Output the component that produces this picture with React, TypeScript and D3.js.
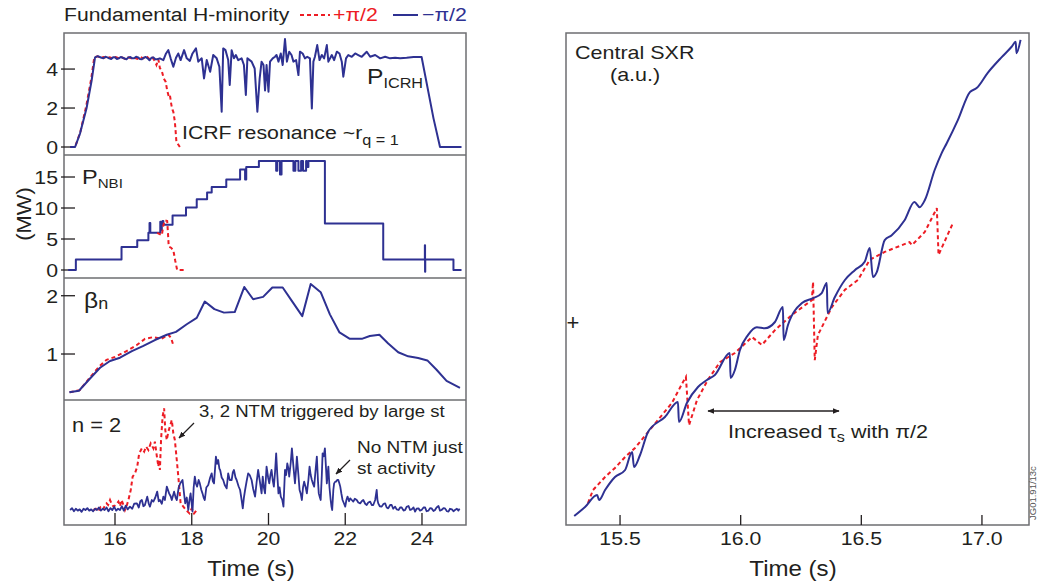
import React from 'react';
import * as d3 from 'd3';

type P = [number, number];

// ---------- data (time s, value) ----------
const ICRH_BLUE: P[] = [
[14.83,0],[14.96,0],[15.09,0.7],[15.26,2.0],[15.39,3.4],[15.48,4.6],
[15.55,4.66],[15.6,4.62],[15.65,4.58],[15.7,4.55],[15.75,4.63],[15.8,4.6],[15.85,4.55],[15.9,4.52],[15.95,4.6],[16.0,4.6],[16.05,4.52],[16.1,4.55],[16.15,4.62],[16.2,4.58],[16.25,4.54],[16.3,4.5],[16.35,4.6],[16.4,4.62],[16.45,4.55],[16.5,4.55],[16.55,4.63],[16.6,4.6],[16.65,4.52],[16.7,4.5],[16.75,4.58],[16.8,4.62],[16.85,4.55],[16.9,4.45],[16.95,4.58],[17.0,4.6],[17.05,4.5],[17.1,4.5],[17.17,4.55],
[17.26,4.46],[17.33,4.8],[17.39,4.97],[17.45,4.55],[17.52,4.12],[17.59,4.58],[17.65,4.8],[17.71,4.46],[17.8,4.97],[17.87,4.55],[17.95,4.42],[18.02,4.8],[18.11,5.06],[18.17,4.38],[18.26,4.55],[18.32,3.52],[18.39,4.46],[18.48,3.86],[18.56,4.72],[18.65,4.55],[18.72,4.12],[18.78,1.81],[18.82,5.06],[18.88,4.97],[18.95,4.46],[18.99,3.18],[19.04,4.97],[19.1,4.55],[19.15,4.72],[19.21,4.46],[19.3,4.55],[19.36,4.21],[19.41,2.67],[19.45,4.55],[19.56,4.38],[19.64,4.03],[19.71,1.81],[19.77,3.52],
[19.82,4.38],[19.87,4.21],[19.91,2.9],[19.95,4.21],[20.0,2.84],[20.04,4.38],[20.11,4.55],[20.17,4.63],[20.21,4.72],[20.26,4.38],[20.32,4.8],[20.37,4.21],[20.43,5.54],[20.48,4.38],[20.54,4.89],[20.6,4.72],[20.65,4.38],[20.72,4.46],[20.78,3.69],[20.82,4.89],[20.89,4.8],[20.95,4.55],[21.01,4.63],[21.08,4.55],[21.13,1.98],[21.17,4.38],[21.21,4.63],[21.27,5.23],[21.33,4.46],[21.39,4.72],[21.45,4.55],[21.52,5.23],[21.56,4.38],[21.65,4.72],[21.71,4.46],[21.78,4.89],[21.85,4.8],[21.91,4.38],[21.95,3.61],[22.02,4.55],[22.08,4.72],[22.17,4.63],[22.26,4.8],[22.34,4.72],[22.43,4.63],[22.56,4.89],[22.65,4.63],[22.78,4.72],[22.91,4.55],[23.04,4.63],[23.17,4.55],[23.3,4.58],[23.43,4.55],[23.6,4.58],[23.78,4.62],[23.99,4.62],[24.3,1.47],[24.47,0],[25.03,0]
];
const ICRH_RED: P[] = [
[14.83,0],[14.96,0],[15.1,0.8],[15.25,2.1],[15.38,3.5],[15.46,4.6],[15.55,4.65],[15.62,4.58],[15.7,4.62],[15.78,4.55],[15.86,4.6],[15.94,4.55],[16.02,4.62],[16.1,4.55],[16.18,4.6],[16.26,4.52],[16.34,4.6],[16.42,4.55],[16.5,4.58],[16.58,4.52],[16.66,4.62],[16.74,4.55],[16.82,4.66],[16.9,4.5],[16.98,4.58],[17.04,4.4],[17.08,4.21],[17.13,4.5],[17.17,4.05],[17.22,3.9],[17.27,3.52],[17.32,3.35],[17.36,2.9],[17.4,2.6],[17.43,2.67],[17.47,2.15],[17.5,1.9],[17.52,1.81],[17.56,1.3],[17.58,0.8],[17.6,0.27],[17.69,0]
];
const NBI_BLUE: P[] = [
[14.78,0],[14.98,1.7],[16.17,3.7],[16.58,4.8],[16.87,6.0],[16.9,7.6],[16.92,6.0],[17.17,6.0],[17.18,7.8],[17.2,6.4],[17.22,7.3],[17.24,7.9],[17.26,7.3],[17.5,8.8],[17.85,10.1],[18.13,11.4],[18.4,12.5],[18.52,13.4],[18.9,14.6],[19.26,16.2],[19.39,14.6],[19.42,16.6],[19.75,17.6],[20.2,16.0],[20.23,17.6],[20.3,15.4],[20.34,17.6],[20.65,16.0],[20.7,17.6],[20.78,16.0],[20.85,17.6],[20.9,16.0],[20.98,17.6],[21.0,16.6],[21.04,17.6],[21.47,7.5],[22.99,1.7],[24.075,4.0],[24.08,-0.3],[24.085,1.7],[24.82,0],[25.03,0]
];
const NBI_RED: P[] = [
[17.1,6.0],[17.22,5.6],[17.26,7.2],[17.3,8.0],[17.36,7.9],[17.38,6.0],[17.4,3.8],[17.46,3.6],[17.52,3.2],[17.57,1.5],[17.62,0],[17.8,0]
];
const BETA_BLUE: P[] = [
[14.81,0.343],[15.06,0.37],[15.35,0.58],[15.61,0.765],[15.87,0.88],[16.13,0.937],[16.44,1.05],[16.74,1.14],[17.04,1.24],[17.35,1.33],[17.59,1.38],[17.87,1.51],[18.13,1.62],[18.34,1.9],[18.59,1.77],[18.84,1.71],[19.12,1.72],[19.37,2.15],[19.6,1.94],[19.86,1.98],[20.1,2.14],[20.37,2.14],[20.63,1.89],[20.88,1.65],[21.1,2.2],[21.36,2.06],[21.6,1.68],[21.85,1.37],[22.12,1.26],[22.43,1.26],[22.64,1.31],[22.89,1.33],[23.12,1.18],[23.38,1.03],[23.64,0.96],[23.9,0.93],[24.14,0.89],[24.38,0.73],[24.64,0.54],[24.99,0.42]
];
const BETA_RED: P[] = [
[14.82,0.343],[15.08,0.38],[15.35,0.6],[15.61,0.8],[15.78,0.9],[16.0,0.95],[16.3,1.05],[16.56,1.15],[16.78,1.26],[17.0,1.29],[17.21,1.26],[17.39,1.33],[17.46,1.28],[17.52,1.15]
];
const N2_BLUE: P[] = [
[14.83,.12],[14.88,.135],[14.93,.11],[14.98,.13],[15.03,.115],[15.08,.125],[15.13,.105],[15.18,.13],[15.23,.12],[15.28,.135],[15.33,.115],[15.38,.125],[15.43,.11],[15.48,.13],[15.53,.12],[15.58,.14],[15.63,.115],[15.68,.13],[15.73,.12],[15.78,.14],[15.83,.11],[15.88,.135],[15.93,.12],[15.98,.145],[16.03,.115],[16.08,.13],[16.13,.12],[16.18,.15],[16.23,.115],[16.28,.155],[16.33,.125],
[16.39,.147],[16.45,.13],[16.5,.17],[16.57,.173],[16.62,.14],[16.66,.19],[16.7,.2],[16.74,.15],[16.78,.16],[16.84,.227],[16.88,.17],[16.91,.147],[16.96,.2],[17.0,.187],[17.05,.22],[17.1,.267],[17.14,.19],[17.17,.2],[17.22,.17],[17.26,.227],[17.3,.2],[17.35,.307],[17.41,.253],[17.45,.23],[17.48,.2],[17.54,.267],[17.58,.22],[17.61,.2],[17.66,.3],[17.7,.333],[17.76,.36],[17.8,.25],[17.83,.173],[17.87,.22],[17.91,.12],[17.94,.2],[17.97,.253],[18.02,.107],[18.05,.3],[18.08,.387],[18.11,.33],[18.14,.307],[18.18,.36],[18.21,.333],[18.25,.28],[18.28,.253],[18.31,.22],[18.34,.2],[18.38,.3],[18.43,.32],[18.48,.38],[18.52,.413],[18.55,.35],[18.58,.333],[18.63,.547],[18.66,.49],[18.69,.52],[18.72,.45],[18.74,.44],[18.78,.38],[18.82,.36],[18.86,.32],[18.91,.293],[18.95,.413],[18.99,.36],[19.04,.36],[19.07,.42],[19.1,.44],[19.14,.38],[19.17,.36],[19.22,.31],[19.26,.28],[19.3,.2],[19.33,.133],[19.36,.22],[19.39,.28],[19.43,.35],[19.47,.413],[19.51,.4],[19.56,.36],[19.6,.29],[19.65,.227],[19.69,.34],[19.73,.44],[19.77,.36],[19.82,.253],[19.85,.387],[19.88,.3],[19.91,.253],[19.95,.467],[19.99,.38],[20.02,.333],[20.05,.4],[20.08,.44],[20.11,.36],[20.14,.307],[20.17,.42],[20.2,.573],[20.23,.4],[20.26,.253],[20.29,.3],[20.32,.227],[20.36,.2],[20.39,.147],[20.43,.44],[20.46,.4],[20.49,.493],[20.52,.45],[20.54,.387],[20.58,.5],[20.61,.613],[20.65,.467],[20.69,.333],[20.72,.45],[20.74,.547],[20.78,.4],[20.81,.28],[20.84,.25],[20.87,.2],[20.9,.3],[20.93,.347],[20.97,.3],[21.0,.253],[21.04,.36],[21.07,.467],[21.1,.4],[21.13,.36],[21.16,.33],[21.19,.307],[21.23,.45],[21.26,.547],[21.29,.35],[21.31,.253],[21.34,.22],[21.36,.2],[21.39,.4],[21.41,.573],[21.44,.55],[21.47,.613],[21.5,.45],[21.52,.333],[21.54,.4],[21.56,.467],[21.59,.3],[21.62,.2],[21.64,.15],[21.66,.12],[21.69,.28],[21.71,.333],[21.74,.347],[21.76,.347],[21.79,.36],[21.82,.36],[21.85,.33],[21.87,.307],[21.9,.25],[21.93,.2],[21.97,.17],[22.0,.147],[22.03,.2],[22.06,.227],[22.1,.19],[22.13,.213],[22.17,.2],[22.21,.187],[22.25,.21],[22.3,.2],[22.34,.18],[22.39,.173],[22.43,.19],[22.47,.2],[22.52,.17],[22.56,.16],[22.6,.18],[22.65,.187],[22.69,.16],[22.73,.16],[22.78,.2],[22.82,.28],[22.84,.2],[22.86,.173],[22.9,.15],[22.95,.147],[23.0,.17],[23.04,.173],[23.08,.14],[23.12,.133],[23.17,.16],[23.21,.16],[23.25,.13],[23.3,.147],[23.34,.125],[23.39,.12],[23.43,.14],[23.47,.141],[23.52,.115],[23.56,.12],[23.6,.145],[23.65,.152],[23.69,.12],[23.73,.125],[23.78,.14],[23.82,.107],[23.86,.13],[23.91,.133],[23.95,.115],[23.99,.12],[24.04,.14],[24.08,.141],[24.12,.11],[24.17,.115],[24.21,.135],[24.25,.133],[24.3,.112],[24.34,.12],[24.38,.14],[24.43,.152],[24.47,.115],[24.51,.12],[24.56,.135],[24.6,.133],[24.65,.11],[24.69,.107],[24.73,.13],[24.78,.125],[24.82,.11],[24.86,.12],[24.91,.13],[24.95,.115],[24.98,.131]
];
const N2_RED: P[] = [
[15.44,.12],[15.5,.13],[15.56,.11],[15.62,.14],[15.68,.12],[15.73,.15],[15.78,.173],[15.82,.16],[15.87,.2],[15.91,.17],[15.96,.147],[16.02,.16],[16.09,.187],[16.13,.15],[16.17,.2],[16.22,.16],[16.26,.12],[16.3,.15],[16.35,.2],[16.41,.28],[16.46,.387],[16.52,.413],[16.58,.467],[16.63,.573],[16.7,.613],[16.76,.587],[16.81,.627],[16.87,.6],[16.93,.653],[17.0,.613],[17.04,.667],[17.08,.573],[17.13,.467],[17.15,.52],[17.17,.44],[17.2,.68],[17.24,.867],[17.28,.933],[17.31,.76],[17.35,.68],[17.39,.747],[17.43,.787],[17.48,.84],[17.52,.733],[17.56,.68],[17.61,.52],[17.65,.387],[17.68,.28],[17.71,.173],[17.78,.147],[17.85,.12],[17.94,.093],[18.0,.133],[18.06,.093],[18.13,.12]
];
const SXR_BLUE: P[] = [
[15.31,1.83],[15.355,3.66],[15.405,6.1],[15.413,5.08],[15.438,7.11],[15.479,9.76],[15.521,11.18],[15.55,14.84],[15.558,11.79],[15.583,14.23],[15.616,18.9],[15.686,21.95],[15.74,25.0],[15.744,20.93],[15.777,24.8],[15.823,28.05],[15.86,29.47],[15.893,30.49],[15.955,34.96],[15.958,29.88],[15.976,31.5],[15.997,35.57],[16.03,38.6],[16.067,40.2],[16.1,40.0],[16.142,41.26],[16.175,44.3],[16.178,37.6],[16.196,40.65],[16.254,45.1],[16.3,46.1],[16.336,47.15],[16.357,49.2],[16.36,43.1],[16.39,46.3],[16.432,49.8],[16.473,51.8],[16.514,53.5],[16.535,56.3],[16.548,50.4],[16.564,51.4],[16.597,57.9],[16.626,58.9],[16.68,62.0],[16.72,65.65],[16.742,64.6],[16.763,66.0],[16.804,72.15],[16.833,75.6],[16.854,77.6],[16.9,82.3],[16.95,88.0],[16.978,88.8],[17.024,91.9],[17.082,95.1],[17.123,97.2],[17.14,98.2],[17.143,95.9],[17.16,98.6]
];
const SXR_RED: P[] = [
[15.367,4.47],[15.388,7.11],[15.438,9.76],[15.479,11.59],[15.521,13.82],[15.562,15.65],[15.633,19.9],[15.715,24.8],[15.761,29.07],[15.773,30.1],[15.786,20.3],[15.819,25.4],[15.864,29.5],[15.914,33.1],[15.976,34.96],[16.047,38.2],[16.088,36.6],[16.142,39.6],[16.212,42.7],[16.295,45.7],[16.3,49.4],[16.307,33.5],[16.32,38.6],[16.378,44.3],[16.432,47.8],[16.486,49.8],[16.535,53.9],[16.597,55.5],[16.7,57.5],[16.71,56.9],[16.763,59.55],[16.813,64.4],[16.82,54.9],[16.88,61.4]
];

const TICKS_ICRH = [0, 2, 4];
const TICKS_NBI = [0, 5, 10, 15];
const TICKS_BETA = [1, 2];
const TICKS_TIME_L = [16, 18, 20, 22, 24];
const TICKS_TIME_R = [15.5, 16.0, 16.5, 17.0];

// ---------- style ----------
const BLUE = '#2e3192';
const RED = '#ed1c24';
const INK = '#231f20';
const FRAME = '#6d6e71';
const FONT = '"Liberation Sans", Arial, Helvetica, sans-serif';
const SX = 1.12;

function Txt(props: any) {
  const { x, y, size = 18, anchor = 'start', fill = INK, rotate = 0, sx = SX, children } = props;
  return (
    <text transform={`translate(${x},${y}) rotate(${rotate}) scale(${sx},1)`} fontSize={size}
      textAnchor={anchor} fill={fill} fontFamily={FONT}>{children}</text>
  );
}

export default function App() {
  const xL = d3.scaleLinear().domain([14.671, 25.147]).range([64, 466]);
  const y1 = d3.scaleLinear().domain([-0.41, 5.85]).range([155, 33]);
  const y2 = d3.scaleLinear().domain([-1.29, 18.55]).range([278, 155]);
  const y3 = d3.scaleLinear().domain([0.211, 2.304]).range([400, 278]);
  const y4 = d3.scaleLinear().domain([0, 1]).range([525, 400]);
  const xR = d3.scaleLinear().domain([15.276, 17.195]).range([566, 1029]);
  const yR = d3.scaleLinear().domain([0, 100]).range([525, 33]);

  const lin = (x: any, y: any, curve: any = d3.curveLinear) =>
    d3.line<P>().x(d => x(d[0])).y(d => y(d[1])).curve(curve);

  const blue = { fill: 'none', stroke: BLUE, strokeWidth: 2, strokeLinejoin: 'round' as const };
  const red = { fill: 'none', stroke: RED, strokeWidth: 2, strokeDasharray: '4 3' };

  const yTicks = (ticks: number[], y: any) => ticks.map(t => (
    <g key={t}>
      <line x1={61} x2={75} y1={y(t)} y2={y(t)} stroke={INK} strokeWidth={1.3} />
      <Txt x={58} y={y(t) + 7} anchor="end" size={19}>{t}</Txt>
    </g>
  ));

  return (
    <svg width={1039} height={585} style={{ position: 'absolute', left: 0, top: 0, background: '#fff' }}>
      <defs>
        <marker id="ah" viewBox="0 0 10 10" refX="9" refY="5" markerWidth="7" markerHeight="7" orient="auto-start-reverse" markerUnits="userSpaceOnUse">
          <path d="M0,1 L10,5 L0,9 Z" fill={INK} />
        </marker>
      </defs>

      {/* legend / title */}
      <Txt x={64} y={21} size={19.2} sx={1.1}>Fundamental H-minority</Txt>
      <line x1={300} x2={330} y1={15} y2={15} stroke={RED} strokeWidth={2} strokeDasharray="4 3" />
      <Txt x={333} y={21} size={19} fill={RED}>+π/2</Txt>
      <line x1={393} x2={418} y1={15} y2={15} stroke={BLUE} strokeWidth={2} />
      <Txt x={422} y={21} size={19} fill={BLUE}>−π/2</Txt>

      {/* left frames */}
      <rect x={64} y={33} width={402} height={492} fill="none" stroke={FRAME} strokeWidth={1.5} />
      {[155, 278, 400].map(y => <line key={y} x1={64} x2={466} y1={y} y2={y} stroke={FRAME} strokeWidth={1.5} />)}

      {/* panel 1 */}
      {yTicks(TICKS_ICRH, y1)}
      <path d={lin(xL, y1)(ICRH_RED) || ''} {...red} />
      <path d={lin(xL, y1)(ICRH_BLUE) || ''} {...blue} />
      <Txt x={367} y={84} size={22}>P<tspan fontSize={14.5} dy={4}>ICRH</tspan></Txt>
      <Txt x={182} y={139} size={19}>ICRF resonance ~r<tspan fontSize={14.5} dy={6}>q = 1</tspan></Txt>

      {/* panel 2 */}
      {yTicks(TICKS_NBI, y2)}
      <path d={lin(xL, y2, d3.curveStepAfter)(NBI_BLUE) || ''} {...blue} />
      <path d={lin(xL, y2)(NBI_RED) || ''} {...red} />
      <Txt x={82} y={184} size={21}>P<tspan fontSize={13.5} dy={4}>NBI</tspan></Txt>
      <Txt x={31} y={214} size={19.5} anchor="middle" rotate={-90}>(MW)</Txt>

      {/* panel 3 */}
      {yTicks(TICKS_BETA, y3)}
      <path d={lin(xL, y3)(BETA_RED) || ''} {...red} />
      <path d={lin(xL, y3)(BETA_BLUE) || ''} {...blue} />
      <Txt x={84} y={308} size={22}>β<tspan fontSize={16} dy={1}>n</tspan></Txt>

      {/* panel 4 */}
      <path d={lin(xL, y4)(N2_RED) || ''} {...red} />
      <path d={lin(xL, y4)(N2_BLUE) || ''} {...blue} strokeWidth={1.8} />
      <Txt x={72} y={432} size={19.5}>n = 2</Txt>
      <Txt x={199} y={417} size={16.6}>3, 2 NTM triggered by large st</Txt>
      <line x1={194} y1={423} x2={179} y2={438} stroke={INK} strokeWidth={1.2} markerEnd="url(#ah)" />
      <Txt x={357} y={453} size={17}>No NTM just</Txt>
      <Txt x={357} y={474} size={17}>st activity</Txt>
      <line x1={350} y1={460} x2={336} y2={474} stroke={INK} strokeWidth={1.2} markerEnd="url(#ah)" />

      {TICKS_TIME_L.map(t => (
        <g key={t}>
          <line x1={xL(t)} x2={xL(t)} y1={525} y2={513} stroke={INK} strokeWidth={1.3} />
          <Txt x={xL(t)} y={545} size={19} anchor="middle">{t}</Txt>
        </g>
      ))}
      <Txt x={251} y={576} size={21.5} anchor="middle">Time (s)</Txt>

      {/* right panel */}
      <rect x={566} y={33} width={463} height={492} fill="none" stroke={FRAME} strokeWidth={1.5} />
      <path d={lin(xR, yR)(SXR_RED) || ''} {...red} />
      <path d={lin(xR, yR, d3.curveMonotoneX)(SXR_BLUE) || ''} {...blue} />
      <Txt x={575} y={59} size={19.2}>Central SXR</Txt>
      <Txt x={610} y={81} size={19.2}>(a.u.)</Txt>
      <Txt x={573} y={330} size={22} anchor="middle" sx={1}>+</Txt>
      <line x1={708} x2={839} y1={411} y2={411} stroke={INK} strokeWidth={1.5} markerStart="url(#ah)" markerEnd="url(#ah)" />
      <Txt x={728} y={438} size={19.2}>Increased τ<tspan fontSize={14.5} dy={4}>s</tspan><tspan dy={-4}> with π/2</tspan></Txt>
      {TICKS_TIME_R.map(t => (
        <g key={t}>
          <line x1={xR(t)} x2={xR(t)} y1={525} y2={515} stroke={INK} strokeWidth={1.3} />
          <Txt x={xR(t)} y={545} size={19} anchor="middle">{t.toFixed(1)}</Txt>
        </g>
      ))}
      <Txt x={793} y={576} size={21.5} anchor="middle">Time (s)</Txt>
      <Txt x={1036} y={520} size={9.5} rotate={-90} sx={1} fill="#555">JG01.91/13c</Txt>
    </svg>
  );
}
